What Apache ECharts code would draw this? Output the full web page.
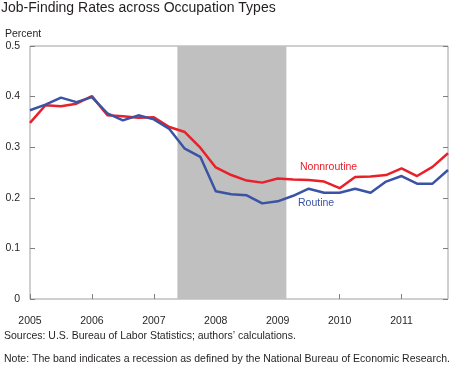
<!DOCTYPE html>
<html>
<head>
<meta charset="utf-8">
<script src="https://cdn.jsdelivr.net/npm/echarts@6/dist/echarts.min.js"></script>
<style>
  html, body { margin: 0; padding: 0; background: #fff; }
  #chart { width: 450px; height: 368px; }
</style>
</head>
<body>
<div id="chart"></div>
<script>
// Quarterly observations, 2005Q1 .. 2011Q4
const quarters = [];
for (let y = 2005; y <= 2011; y++) {
  for (let q = 0; q < 4; q++) quarters.push(y + q / 4);
}
const nonroutine = [0.348, 0.383, 0.381, 0.386, 0.401, 0.363, 0.361, 0.358, 0.359, 0.340,
  0.330, 0.299, 0.260, 0.245, 0.234, 0.230, 0.238, 0.236, 0.235, 0.232,
  0.219, 0.241, 0.242, 0.245, 0.258, 0.243, 0.261, 0.288];
const routine = [0.373, 0.384, 0.398, 0.389, 0.399, 0.367, 0.353, 0.363, 0.355, 0.336,
  0.297, 0.281, 0.213, 0.207, 0.205, 0.189, 0.193, 0.204, 0.218, 0.210,
  0.210, 0.218, 0.210, 0.232, 0.243, 0.228, 0.228, 0.255];
const recession = [2007.38, 2009.14];
const yTicks = [0, 0.1, 0.2, 0.3, 0.4, 0.5];
const xYears = [2005, 2006, 2007, 2008, 2009, 2010, 2011];

const FONT = 'Liberation Sans, Arial, Helvetica, sans-serif';
const chart = echarts.init(document.getElementById('chart'), null, { renderer: 'canvas' });

const pair = (xs, ys) => xs.map((x, i) => [x, ys[i]]);

chart.setOption({
  animation: false,
  backgroundColor: '#ffffff',
  textStyle: { fontFamily: FONT },
  title: {
    text: 'Job-Finding Rates across Occupation Types',
    left: 1, top: 1, padding: 0,
    textStyle: { fontFamily: FONT, fontSize: 14, fontWeight: 'normal', color: '#231f20' }
  },
  grid: {
    left: 30, right: 2, top: 46, bottom: 69,
    show: true, borderColor: '#a0a0a0', borderWidth: 1, backgroundColor: 'transparent'
  },
  xAxis: {
    type: 'value', min: 2005, max: 2011.75, interval: 1,
    axisLine: { show: false },
    axisTick: { show: true, inside: true, length: 5, lineStyle: { color: '#808080' } },
    splitLine: { show: false },
    axisLabel: {
      margin: 17, fontSize: 10.5, color: '#231f20', fontFamily: FONT,
      showMaxLabel: false,
      formatter: v => (xYears.indexOf(v) >= 0 ? String(v) : '')
    }
  },
  yAxis: [{
    type: 'value', min: 0, max: 0.5, interval: 0.1,
    axisLine: { show: false },
    axisTick: { show: true, inside: true, length: 5, lineStyle: { color: '#808080' } },
    splitLine: { show: false },
    axisLabel: {
      margin: 10, fontSize: 10.5, color: '#231f20', fontFamily: FONT,
      formatter: v => {
        const t = yTicks.find(k => Math.abs(k - v) < 1e-9);
        return t === undefined ? '' : (t === 0 ? '0' : t.toFixed(1));
      }
    }
  }, {
    type: 'value', min: 0, max: 0.5, interval: 0.1, position: 'right',
    axisLine: { show: false },
    axisTick: { show: true, inside: true, length: 5, lineStyle: { color: '#808080' } },
    splitLine: { show: false },
    axisLabel: { show: false }
  }],
  series: [{
    name: 'Nonnroutine', type: 'line', yAxisIndex: 0,
    data: pair(quarters, nonroutine),
    showSymbol: false, symbol: 'none',
    lineStyle: { color: '#e8202a', width: 2.5 },
    itemStyle: { color: '#e8202a' },
    markArea: {
      silent: true,
      itemStyle: { color: '#c0c0c0' },
      data: [[{ xAxis: recession[0] }, { xAxis: recession[1] }]]
    },
    z: 2
  }, {
    name: 'Routine', type: 'line', yAxisIndex: 0,
    data: pair(quarters, routine),
    showSymbol: false, symbol: 'none',
    lineStyle: { color: '#3a53a4', width: 2.5 },
    itemStyle: { color: '#3a53a4' },
    z: 3
  }],
  graphic: [
    { type: 'text', left: 5, top: 29, style: { text: 'Percent', font: '10.5px ' + FONT, fill: '#231f20' } },
    { type: 'text', left: 300, top: 162, style: { text: 'Nonnroutine', font: '10.5px ' + FONT, fill: '#e8202a' } },
    { type: 'text', left: 298, top: 198, style: { text: 'Routine', font: '10.5px ' + FONT, fill: '#3a53a4' } },
    { type: 'text', left: 4, top: 331, style: { text: 'Sources: U.S. Bureau of Labor Statistics; authors\u2019 calculations.', font: '10.5px ' + FONT, fill: '#231f20' } },
    { type: 'text', left: 4, top: 354, style: { text: 'Note: The band indicates a recession as defined by the National Bureau of Economic Research.', font: '10.5px ' + FONT, fill: '#231f20' } }
  ]
});
</script>
</body>
</html>
